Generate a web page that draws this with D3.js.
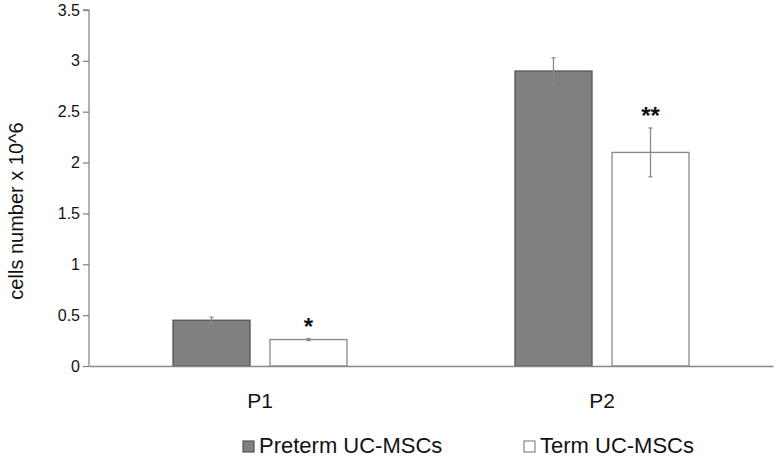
<!DOCTYPE html>
<html><head><meta charset="utf-8">
<script src="https://cdn.jsdelivr.net/npm/d3@7"></script>
<style>body{margin:0;background:#fff}svg{display:block}text{font-family:"Liberation Sans",Arial,sans-serif}</style>
</head><body><svg id="c" width="774" height="458"></svg>
<script>
const categories = ["P1", "P2"];
const seriesNames = ["Preterm UC-MSCs", "Term UC-MSCs"];
const preterm = [0.45, 2.9];
const term = [0.26, 2.1];
const pretermErr = [0.03, 0.13];
const termErr = [0.01, 0.24];
const sig = ["*", "**"];
const yTicks = [0, 0.5, 1, 1.5, 2, 2.5, 3, 3.5];
const yTickLabels = ["0", "0.5", "1", "1.5", "2", "2.5", "3", "3.5"];

const FONT = "Liberation Sans, Arial, sans-serif";
const svg = d3.select("#c");
const mLeft = 89, mRight = 773, mTop = 10, mBottom = 366;
const x = d3.scaleBand().domain(categories).range([mLeft, mRight]);
const x1 = d3.scaleBand().domain(seriesNames).range([0, 174]).paddingInner(0.206);
const y = d3.scaleLinear().domain([0, 3.5]).range([mBottom, mTop]);
const fills = {"Preterm UC-MSCs": "#808080", "Term UC-MSCs": "#ffffff"};
const strokes = {"Preterm UC-MSCs": "#555555", "Term UC-MSCs": "#888888"};

const data = [];
categories.forEach((c, i) => {
  data.push({c, s: seriesNames[0], v: preterm[i], e: pretermErr[i]});
  data.push({c, s: seriesNames[1], v: term[i], e: termErr[i]});
});
const gx = c => x(c) + x.bandwidth() / 2 - 87;
const cx = d => gx(d.c) + x1(d.s) + x1.bandwidth() / 2;

// bars
svg.selectAll("rect.bar").data(data).join("rect")
  .attr("x", d => gx(d.c) + x1(d.s)).attr("width", x1.bandwidth())
  .attr("y", d => y(d.v)).attr("height", d => y(0) - y(d.v))
  .attr("fill", d => fills[d.s]).attr("stroke", d => strokes[d.s]).attr("stroke-width", 1.3);

// error bars
const eg = svg.selectAll("g.err").data(data).join("g").attr("stroke", "#888").attr("stroke-width", 1.3);
eg.append("line").attr("x1", cx).attr("x2", cx)
  .attr("y1", d => y(d.v + d.e)).attr("y2", d => y(d.v - d.e));
eg.append("line").attr("x1", d => cx(d) - 2).attr("x2", d => cx(d) + 2)
  .attr("y1", d => y(d.v + d.e)).attr("y2", d => y(d.v + d.e));
eg.append("line").attr("x1", d => cx(d) - 2).attr("x2", d => cx(d) + 2)
  .attr("y1", d => y(d.v - d.e)).attr("y2", d => y(d.v - d.e));

// significance
svg.selectAll("text.sig").data(categories).join("text")
  .attr("x", c => gx(c) + x1(seriesNames[1]) + x1.bandwidth()/2)
  .attr("y", (c, i) => y(term[i] + termErr[i]) - 4)
  .attr("text-anchor", "middle").attr("font-size", 24).attr("font-weight", "bold").attr("fill", "#111")
  .attr("font-family", FONT).text((c, i) => sig[i]);

// y axis
const yAxis = d3.axisLeft(y).tickValues(yTicks).tickFormat((d, i) => yTickLabels[i]).tickSize(6).tickPadding(3);
const ga = svg.append("g").attr("transform", `translate(${mLeft},0)`).call(yAxis);
ga.attr("font-family", FONT);
ga.select(".domain").attr("stroke", "#888").attr("stroke-width", 1.3).attr("d", `M-6,${mTop}H0V${mBottom}`);
ga.selectAll(".tick line").attr("stroke", "#888").attr("stroke-width", 1.3);
ga.selectAll(".tick text").attr("font-size", 16).attr("fill", "#111");

// x axis
const xAxis = d3.axisBottom(x).tickSize(0).tickPadding(27);
const gxa = svg.append("g").attr("transform", `translate(0,${mBottom})`).call(xAxis);
gxa.attr("font-family", FONT);
gxa.select(".domain").attr("stroke", "#888").attr("stroke-width", 1.3);
gxa.selectAll(".tick text").attr("font-size", 21).attr("fill", "#111");

// y label
svg.append("text").attr("transform", "translate(23,211) rotate(-90)").attr("text-anchor", "middle")
  .attr("font-size", 20).attr("fill", "#111").attr("font-family", FONT).text("cells number x 10^6");

// legend
const legX = [243, 524];
const lg = svg.selectAll("g.leg").data(seriesNames).join("g").attr("transform", (d, i) => `translate(${legX[i]},441)`);
lg.append("rect").attr("x", 0).attr("y", 0).attr("width", 11).attr("height", 11)
  .attr("fill", d => fills[d]).attr("stroke", d => strokes[d]).attr("stroke-width", 1.2);
lg.append("text").attr("x", 16).attr("y", 12).attr("font-size", 22).attr("fill", "#111")
  .attr("font-family", FONT).text(d => d);
</script></body></html>
